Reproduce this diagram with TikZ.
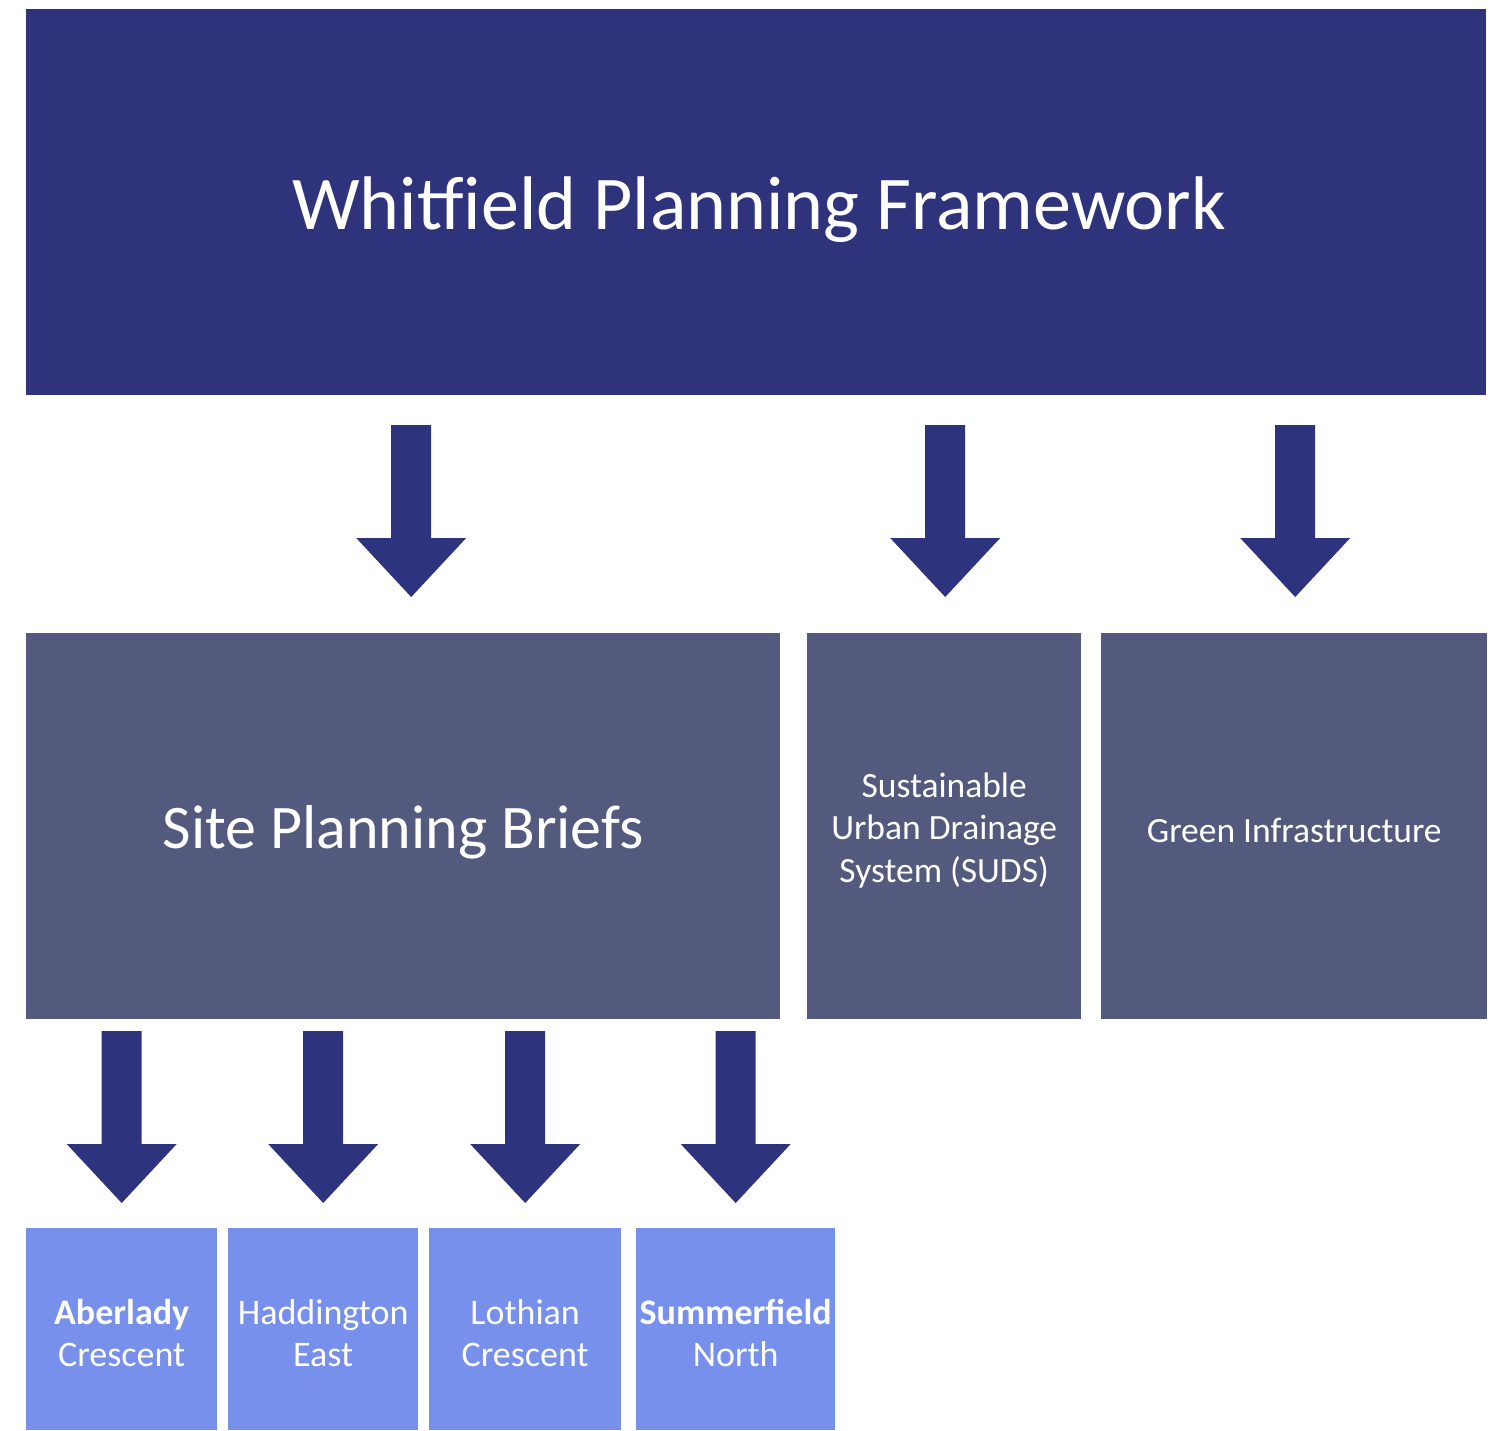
\documentclass[tikz,border=0pt]{standalone}
\usepackage{fontspec}
\setmainfont{Carlito}
\usetikzlibrary{calc}
\definecolor{topc}{RGB}{47,51,124}
\definecolor{arrc}{RGB}{46,51,126}
\definecolor{midc}{RGB}{84,90,126}
\definecolor{botc}{RGB}{118,144,235}
\tikzset{
  box/.style={rectangle,inner sep=0pt,anchor=north west,text=white,align=center},
  topbox/.style={box,fill=topc},
  midbox/.style={box,fill=midc},
  botbox/.style={box,fill=botc},
  label/.style={text=white,align=center,inner sep=0pt},
  blockarrow/.pic={\fill[arrc] (0,0) -- (55,-59) -- (20,-59) -- (20,-172) -- (-20,-172) -- (-20,-59) -- (-55,-59) -- cycle;}
}
\begin{document}
\begin{tikzpicture}[x=1pt,y=-1pt]
\useasboundingbox (0,0) rectangle (1503,1430);
\node[topbox,minimum width=1460pt,minimum height=386pt] (top) at (26,9) {};
\node[label,font=\fontsize{76}{84}\selectfont] (toptxt) at ($(top.center)+(3,7)$) {Whitfield Planning Framework};
\node[midbox,minimum width=754pt,minimum height=386pt] (site) at (26,633) {};
\node[label,font=\fontsize{62}{70}\selectfont] (sitetxt) at ($(site.center)+(0,6)$) {Site Planning Briefs};
\node[midbox,minimum width=274pt,minimum height=386pt] (suds) at (807,633) {};
\node[label,font=\fontsize{35.5}{42.5}\selectfont] (sudstxt) at ($(suds.center)+(0,4)$) {Sustainable\\Urban Drainage\\System (SUDS)};
\node[midbox,minimum width=386pt,minimum height=386pt] (green) at (1101,633) {};
\node[label,font=\fontsize{35.5}{42}\selectfont] (greentxt) at ($(green.center)+(0,4)$) {Green Infrastructure};
\node[botbox,minimum width=191pt,minimum height=202pt] (b1) at (26,1228) {};
\node[botbox,minimum width=190pt,minimum height=202pt] (b2) at (228,1228) {};
\node[botbox,minimum width=192pt,minimum height=202pt] (b3) at (429,1228) {};
\node[botbox,minimum width=199pt,minimum height=202pt] (b4) at (636,1228) {};
\tikzset{bt/.style={label,font=\fontsize{36}{42}\selectfont}}
\node[bt] (b1t) at ($(b1.center)+(0,4)$) {\textbf{Aberlady}\\Crescent};
\node[bt] (b2t) at ($(b2.center)+(0,4)$) {Haddington\\East};
\node[bt] (b3t) at ($(b3.center)+(0,4)$) {Lothian\\Crescent};
\node[bt] (b4t) at ($(b4.center)+(0,4)$) {\textbf{Summerfield}\\North};
\pic at ($(site.north)+(8,-36)$) {blockarrow};
\pic at ($(suds.north)+(1,-36)$) {blockarrow};
\pic at ($(green.north)+(1,-36)$) {blockarrow};
\pic at ($(b1.north)+(0,-25)$) {blockarrow};
\pic at ($(b2.north)+(0,-25)$) {blockarrow};
\pic at ($(b3.north)+(0,-25)$) {blockarrow};
\pic at ($(b4.north)+(0,-25)$) {blockarrow};
\end{tikzpicture}
\end{document}
